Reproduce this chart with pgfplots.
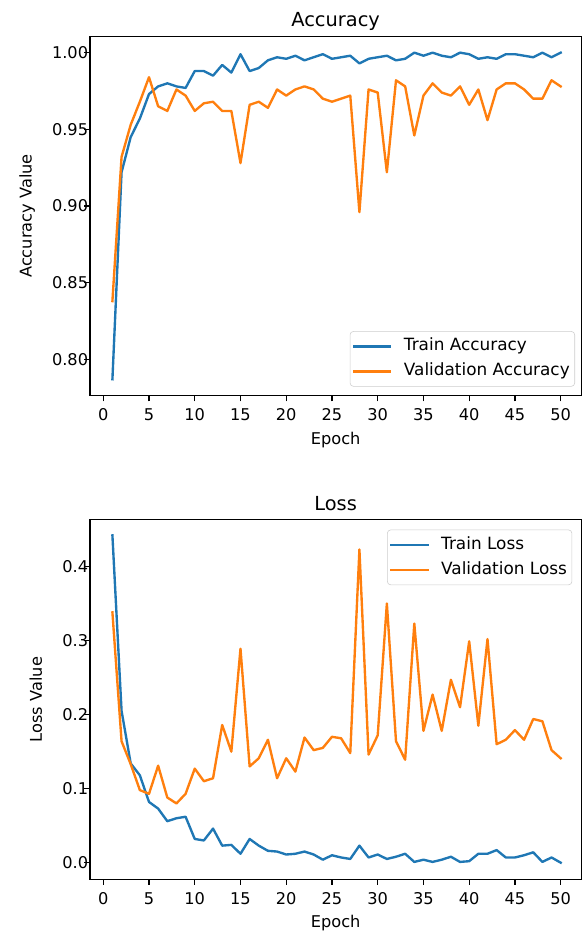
\documentclass[border=0pt]{standalone}
\usepackage{fontspec}
\setmainfont{DejaVu Sans}
\usepackage{pgfplots}
\usepackage{pgfplotstable}
\pgfplotsset{compat=1.18}

\definecolor{tabblue}{HTML}{1F77B4}
\definecolor{taborange}{HTML}{FF7F0E}

\pgfplotstableread{
epoch train val
1 0.787 0.838
2 0.922 0.932
3 0.945 0.953
4 0.957 0.968
5 0.973 0.984
6 0.978 0.965
7 0.980 0.962
8 0.978 0.976
9 0.977 0.972
10 0.988 0.962
11 0.988 0.967
12 0.985 0.968
13 0.992 0.962
14 0.987 0.962
15 0.999 0.928
16 0.988 0.966
17 0.990 0.968
18 0.995 0.964
19 0.997 0.976
20 0.996 0.972
21 0.998 0.976
22 0.995 0.978
23 0.997 0.976
24 0.999 0.970
25 0.996 0.968
26 0.997 0.970
27 0.998 0.972
28 0.993 0.896
29 0.996 0.976
30 0.997 0.974
31 0.998 0.922
32 0.995 0.982
33 0.996 0.978
34 1.000 0.946
35 0.998 0.972
36 1.000 0.980
37 0.998 0.974
38 0.997 0.972
39 1.000 0.978
40 0.999 0.966
41 0.996 0.976
42 0.997 0.956
43 0.996 0.976
44 0.999 0.980
45 0.999 0.980
46 0.998 0.976
47 0.997 0.970
48 1.000 0.970
49 0.997 0.982
50 1.000 0.978
}\acctable

\pgfplotstableread{
epoch train val
1 0.442 0.338
2 0.205 0.164
3 0.134 0.133
4 0.118 0.098
5 0.082 0.093
6 0.073 0.131
7 0.056 0.088
8 0.060 0.080
9 0.062 0.093
10 0.032 0.127
11 0.030 0.110
12 0.046 0.114
13 0.023 0.186
14 0.024 0.150
15 0.012 0.289
16 0.032 0.130
17 0.023 0.141
18 0.016 0.166
19 0.015 0.114
20 0.011 0.141
21 0.012 0.123
22 0.015 0.169
23 0.011 0.152
24 0.004 0.155
25 0.010 0.170
26 0.007 0.168
27 0.005 0.148
28 0.023 0.423
29 0.007 0.146
30 0.011 0.172
31 0.005 0.350
32 0.008 0.164
33 0.012 0.139
34 0.001 0.323
35 0.004 0.178
36 0.001 0.227
37 0.004 0.178
38 0.008 0.247
39 0.001 0.210
40 0.002 0.299
41 0.012 0.185
42 0.012 0.302
43 0.017 0.160
44 0.007 0.166
45 0.007 0.179
46 0.010 0.166
47 0.014 0.194
48 0.001 0.191
49 0.007 0.152
50 0.000 0.141
}\losstable

\tikzset{mplcurve/.style={line width=1.7bp, line join=round, line cap=rect}}

\pgfplotsset{
  mplstyle/.style={
    scale only axis,
    width=353.7bp, height=258.8bp,
    anchor=south west,
    xmin=-1.45, xmax=52.25,
    xtick={0,5,...,50},
    axis line style={line width=0.9bp},
    tick style={line width=0.9bp, black},
    tick align=outside,
    major tick length=4bp,
    xtick pos=bottom, ytick pos=left,
    /pgf/number format/assume math mode=true,
    tick label style={font=\fontsize{11.7}{14}\selectfont},
    xticklabel style={anchor=base, yshift=-14.2bp},
    yticklabel style={anchor=east, inner xsep=0pt, xshift=2.8bp},
    label style={font=\fontsize{11.7}{14}\selectfont},
    xlabel style={at={(axis description cs:0.5,0)}, anchor=base, yshift=-35bp},
    title style={at={(axis description cs:0.5,1)}, anchor=base, yshift=0.8bp,
      font=\fontsize{14}{16}\selectfont},
    legend cell align=left,
    legend image code/.code={\draw[##1] (0bp,0bp) -- (26bp,0bp);},
    legend style={draw=black!20, rounded corners=2.5bp, fill=white,
      font=\fontsize{12.2}{14}\selectfont,
      inner xsep=2bp, inner ysep=5.3bp, row sep=7bp, column sep=7.5bp,
      nodes={inner xsep=1.6bp, inner ysep=0pt, text height=8.6bp, text depth=2.4bp}},
  }
}

\begin{document}
\begin{tikzpicture}
\useasboundingbox (0,0) rectangle (419.04bp,-671.04bp);

% loss panel (lower)
\begin{axis}[mplstyle,
  at={(64.8bp,-633.1bp)},
  ymin=-0.0225, ymax=0.463,
  ytick={0,0.1,0.2,0.3,0.4},
  yticklabel style={/pgf/number format/.cd, fixed, fixed zerofill, precision=1},
  title={Loss},
  xlabel={Epoch},
  ylabel={Loss Value},
  ylabel style={at={([xshift=-34.6bp]axis description cs:0,0.5)}, anchor=base},
  legend style={at={(1,1)}, anchor=north east, xshift=-6.5bp, yshift=-7bp},
]
\addplot[tabblue, mplcurve] table[x=epoch, y=train] {\losstable};
\addlegendentry{Train Loss}
\addplot[taborange, mplcurve] table[x=epoch, y=val] {\losstable};
\addlegendentry{Validation Loss}
\end{axis}

% accuracy panel (upper)
\begin{axis}[mplstyle,
  at={(64.8bp,-284.9bp)},
  ymin=0.7763, ymax=1.0107,
  ytick={0.80,0.85,0.90,0.95,1.00},
  yticklabel style={/pgf/number format/.cd, fixed, fixed zerofill, precision=2},
  title={Accuracy},
  xlabel={Epoch},
  ylabel={Accuracy Value},
  ylabel style={at={([xshift=-42bp]axis description cs:0,0.5)}, anchor=base},
  legend style={at={(1,0)}, anchor=south east, xshift=-4.5bp, yshift=6.5bp},
]
\addplot[tabblue, mplcurve] table[x=epoch, y=train] {\acctable};
\addlegendentry{Train Accuracy}
\addplot[taborange, mplcurve] table[x=epoch, y=val] {\acctable};
\addlegendentry{Validation Accuracy}
\end{axis}
\end{tikzpicture}
\end{document}
